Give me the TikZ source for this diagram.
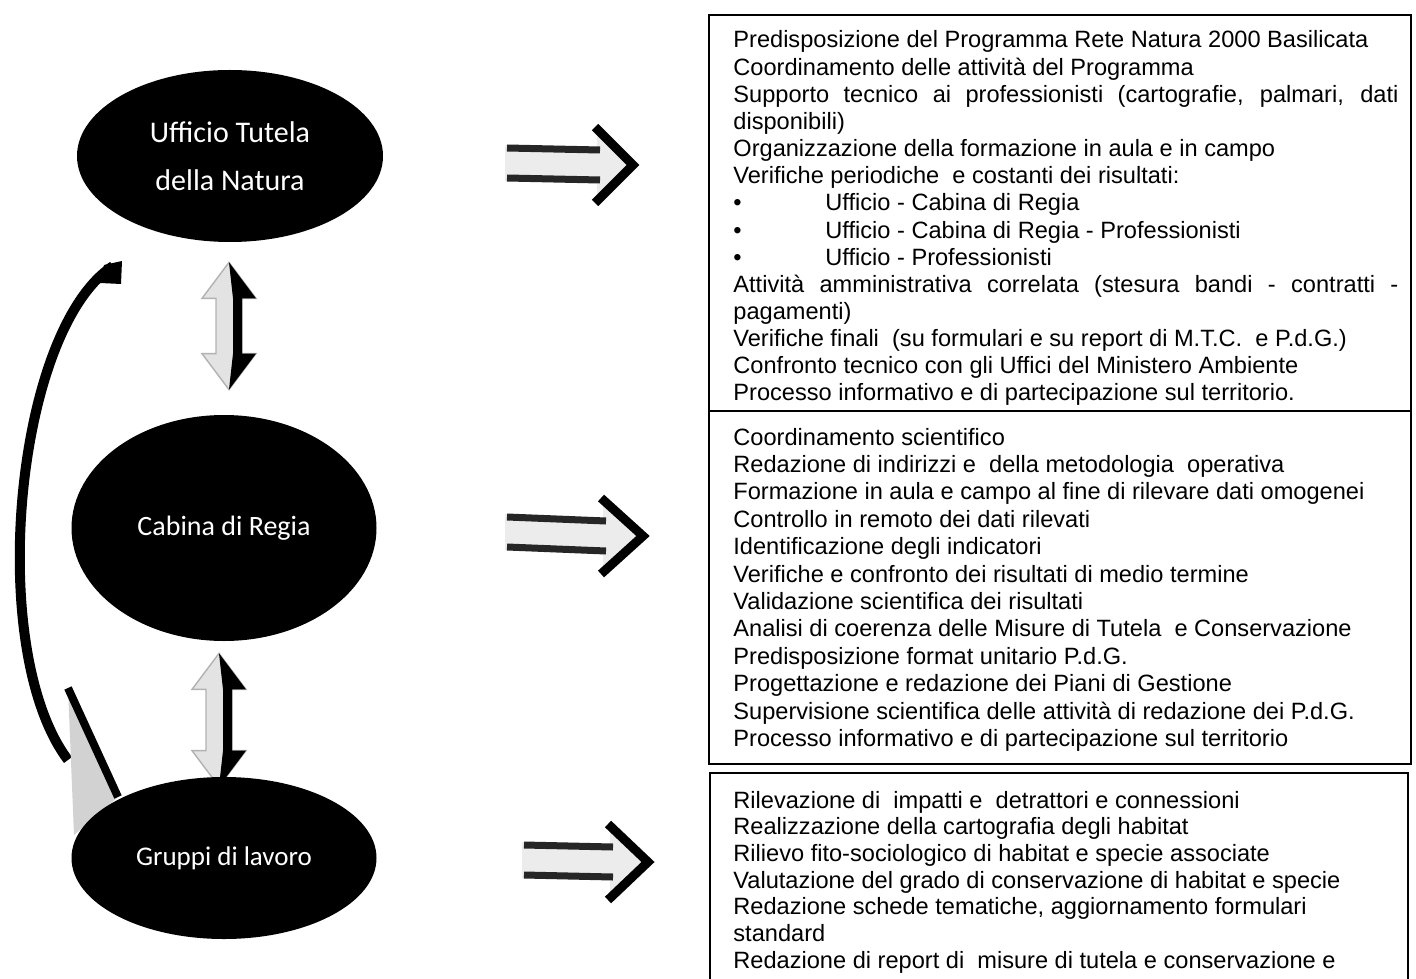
\documentclass[tikz,border=0pt]{standalone}
\usepackage{fontspec}
\setmainfont{Liberation Sans}
\newfontfamily\calib{Carlito}
\usetikzlibrary{shapes.geometric,calc}
\pgfdeclarelayer{background}
\pgfsetlayers{background,main}
\newcommand\dblarr[2]{%
  \filldraw[fill=gray!22, draw=gray!60, line width=0.7pt] (#1) -- ($(#1)+(27,36)$) -- ($(#1)+(13,36)$) -- ($(#2)+(13,-36)$) -- ($(#2)+(27,-36)$) -- (#2) -- ($(#2)+(-27,-36)$) -- ($(#2)+(-13,-36)$) -- ($(#1)+(-13,36)$) -- ($(#1)+(-27,36)$) -- cycle;
  \fill[black] (#1) -- ($(#1)+(27,36)$) -- ($(#1)+(13,36)$) -- ($(#2)+(13,-36)$) -- ($(#2)+(27,-36)$) -- (#2) -- ($(#2)+(4,-36)$) -- ($(#1)+(4,36)$) -- cycle;
}
\newcommand\rarr[3]{%
  \fill[gray!15] ($(#1)+(0,-18)$) -- ($(#2)+(-#3,-18)$) -- ($(#2)+(-#3,-40)$) -- (#2) -- ($(#2)+(-#3,40)$) -- ($(#2)+(-#3,18)$) -- ($(#1)+(0,18)$) -- cycle;
  \draw[line width=3.5pt, black!85] ($(#1)+(2,-15)$) -- ($(#2)+(-#3+3,-15)$);
  \draw[line width=3.5pt, black!85] ($(#1)+(2,15)$) -- ($(#2)+(-#3+3,15)$);
  \draw[line width=4.5pt, line join=miter] ($(#2)+(-#3-2,-38)$) -- ($(#2)+(-4,0)$) -- ($(#2)+(-#3-2,38)$);
}
\begin{document}
\begin{tikzpicture}[x=0.5pt,y=-0.5pt,
  ell/.style={ellipse, fill=black, inner sep=0pt, text=white, align=center},
  boxframe/.style={draw=black, line width=1pt, inner sep=0pt, anchor=north west},
  txt/.style={anchor=base west, inner sep=0pt}]
\useasboundingbox (0,0) rectangle (1416,978);
% ellipses
\node[ell, minimum width=153pt, minimum height=86pt, font=\calib\fontsize{15}{24}\selectfont] (u) at (230,156) {Ufficio Tutela\\della Natura};
\node[ell, minimum width=152.5pt, minimum height=113pt, font=\calib\fontsize{14}{24}\selectfont] (c) at (224,528) {Cabina di Regia};
\node[ell, minimum width=152.5pt, minimum height=81pt, font=\calib\fontsize{13.5}{24}\selectfont] (g) at (224,858) {Gruppi di lavoro};
% connectors behind ellipses
\begin{pgfonlayer}{background}
\coordinate (d1t) at ($(u.south)+(-1,20)$);
\coordinate (d1b) at ($(c.north)+(5,-25)$);
\coordinate (d2t) at ($(c.south)+(-5,12)$);
\coordinate (d2b) at ($(g.north)+(-5,10)$);
\dblarr{d1t}{d1b}
\dblarr{d2t}{d2b}
\coordinate (ct) at (113,266);
\coordinate (cb) at (68,760);
\coordinate (chead) at (118,797);
\fill (104,265) -- (122,261) -- (121,284) -- (100,283) -- cycle;
\draw[line width=5pt] (ct) .. controls (15,330) and (-15,650) .. (cb);
\fill[gray!35] (68,688) -- (chead) -- (74,835) -- cycle;
\draw[line width=4pt] (68,688) -- (chead);
\end{pgfonlayer}
% right arrows
\coordinate (a1l) at (505,163);
\coordinate (a1t) at (637,165);
\coordinate (a2l) at (505,532);
\coordinate (a2t) at (647,536);
\coordinate (a3l) at (522,860);
\coordinate (a3t) at (652,862);
\rarr{a1l}{a1t}{40}
\rarr{a2l}{a2t}{44}
\rarr{a3l}{a3t}{42}
% boxes
\node[boxframe, minimum width=351pt, minimum height=198pt] (b1) at (708,14) {};
\node[boxframe, minimum width=351pt, minimum height=176.5pt] (b2) at (708,410) {};
\coordinate (b3a) at (710,980);
\coordinate (b3b) at (1408,980);
\draw[line width=1pt] (b3a) -- (710,773) -- (1408,773) -- (b3b);
% texts
\node[txt] (t1) at (733,48) {\parbox[t]{332.5pt}{\fontsize{11.8}{13.575}\selectfont
Predisposizione del Programma Rete Natura 2000 Basilicata\\
Coordinamento delle attività del Programma\\
\makebox[\linewidth][s]{Supporto tecnico ai professionisti (cartografie, palmari, dati}\\
disponibili)\\
Organizzazione della formazione in aula e in campo\\
Verifiche periodiche~ e costanti dei risultati:\\
\makebox[46pt][l]{\textbullet}Ufficio - Cabina di Regia\\
\makebox[46pt][l]{\textbullet}Ufficio - Cabina di Regia - Professionisti\\
\makebox[46pt][l]{\textbullet}Ufficio - Professionisti\\
\makebox[\linewidth][s]{Attività amministrativa correlata (stesura bandi - contratti -}\\
pagamenti)\\
Verifiche finali~ (su formulari e su report di M.T.C.~ e P.d.G.)\\
Confronto tecnico con gli Uffici del Ministero Ambiente\\
Processo informativo e di partecipazione sul territorio.}};
\node[txt] (t2) at (733,445) {\parbox[t]{332.5pt}{\fontsize{11.8}{13.7}\selectfont
Coordinamento scientifico\\
Redazione di indirizzi e~ della metodologia~ operativa\\
Formazione in aula e campo al fine di rilevare dati omogenei\\
Controllo in remoto dei dati rilevati\\
Identificazione degli indicatori\\
Verifiche e confronto dei risultati di medio termine\\
Validazione scientifica dei risultati\\
Analisi di coerenza delle Misure di Tutela~ e Conservazione\\
Predisposizione format unitario P.d.G.\\
Progettazione e redazione dei Piani di Gestione\\
Supervisione scientifica delle attività di redazione dei P.d.G.\\
Processo informativo e di partecipazione sul territorio}};
\node[txt] (t3) at (733,808) {\parbox[t]{332.5pt}{\fontsize{11.8}{13.35}\selectfont
Rilevazione di~ impatti e~ detrattori e connessioni\\
Realizzazione della cartografia degli habitat\\
Rilievo fito-sociologico di habitat e specie associate\\
Valutazione del grado di conservazione di habitat e specie\\
Redazione schede tematiche, aggiornamento formulari\\
standard\\
Redazione di report di~ misure di tutela e conservazione e}};
\end{tikzpicture}
\end{document}
